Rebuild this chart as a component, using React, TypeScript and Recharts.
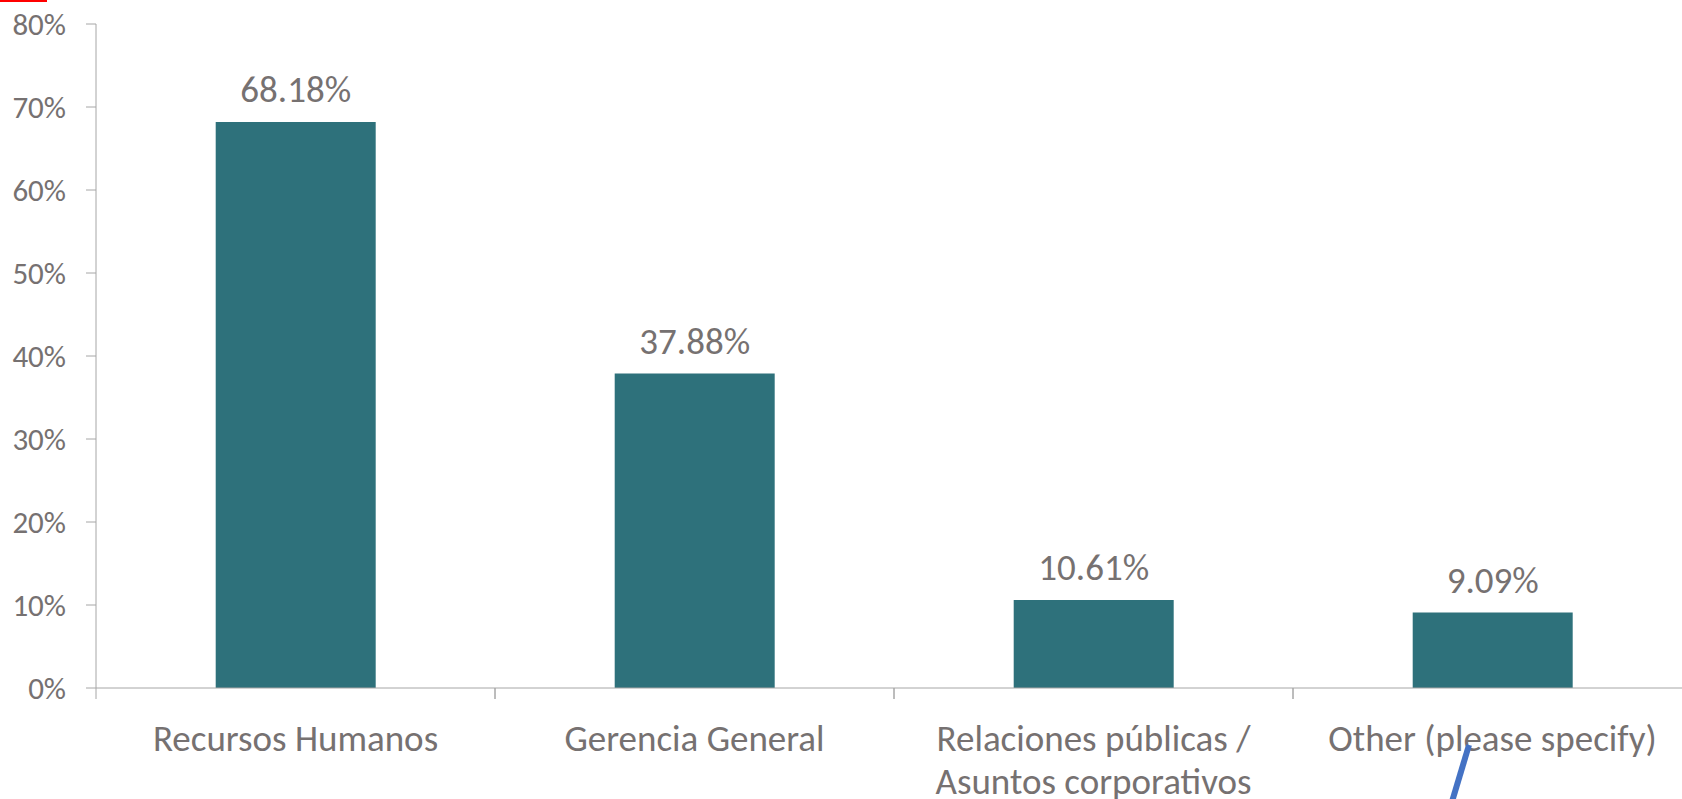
import React from 'react'
import { BarChart, Bar, XAxis, YAxis, LabelList } from 'recharts'

const categories = [
  'Recursos Humanos',
  'Gerencia General',
  'Relaciones públicas / Asuntos corporativos',
  'Other (please specify)',
]
const shares = [68.18, 37.88, 10.61, 9.09]
const yTicks = [0, 10, 20, 30, 40, 50, 60, 70, 80]

const data = categories.map((name, i) => ({ name, value: shares[i] }))

const FONT = 'Carlito, Lato, "Open Sans", sans-serif'
const TEXT = '#767171'
const AXIS = '#A6A6A6'
const BAR = '#2E717B'

// break long labels after the slash, the way the original wraps them
const splitLabel = (label: string) => {
  const idx = label.indexOf('/ ')
  if (idx < 0) return [label]
  return [label.slice(0, idx + 1), label.slice(idx + 2)]
}

const CategoryTick = (props: any) => {
  const { x, y, payload } = props
  const half = payload?.offset ?? 199.5
  const lines = splitLabel(String(payload.value))
  return (
    <g>
      <line x1={x - half} y1={y} x2={x - half} y2={y + 11} stroke={AXIS} strokeWidth={1} />
      <line x1={x + half} y1={y} x2={x + half} y2={y + 11} stroke={AXIS} strokeWidth={1} />
      <text textAnchor="middle" fill={TEXT} fontSize={37} fontFamily={FONT}>
        {lines.map((line, i) => (
          <tspan key={i} x={x} y={y + 63 + i * 43}>
            {line}
          </tspan>
        ))}
      </text>
    </g>
  )
}

export default function App() {
  return (
    <div
      style={{
        position: 'absolute',
        left: 0,
        top: 0,
        width: 1682,
        height: 799,
        overflow: 'hidden',
        background: '#fff',
      }}
    >
      <div style={{ position: 'absolute', left: 0, top: 0, width: 47, height: 2, background: '#FF0000' }} />
      <BarChart
        width={1700}
        height={799}
        data={data}
        margin={{ top: 24, right: 8, left: 0, bottom: 0 }}
        barCategoryGap="30%"
      >
        <XAxis
          dataKey="name"
          height={111}
          axisLine={{ stroke: AXIS }}
          tickLine={false}
          tickSize={0}
          tickMargin={0}
          interval={0}
          tick={<CategoryTick />}
        />
        <YAxis
          width={96}
          domain={[0, 80]}
          ticks={yTicks}
          interval={0}
          tickFormatter={(v: number) => `${v}%`}
          axisLine={{ stroke: AXIS }}
          tickLine={{ stroke: AXIS }}
          tickSize={10}
          tickMargin={20}
          tick={{ fill: TEXT, fontSize: 31, fontFamily: FONT }}
        />
        <Bar dataKey="value" fill={BAR} isAnimationActive={false}>
          <LabelList
            dataKey="value"
            position="top"
            offset={20}
            formatter={(v: any) => `${Number(v).toFixed(2)}%`}
            style={{ fill: TEXT, fontSize: 37, fontFamily: FONT }}
          />
        </Bar>
      </BarChart>
      <svg
        width={1682}
        height={799}
        style={{ position: 'absolute', left: 0, top: 0, pointerEvents: 'none' }}
      >
        <line x1={1469} y1={745} x2={1451} y2={805} stroke="#4472C4" strokeWidth={6} />
      </svg>
    </div>
  )
}
